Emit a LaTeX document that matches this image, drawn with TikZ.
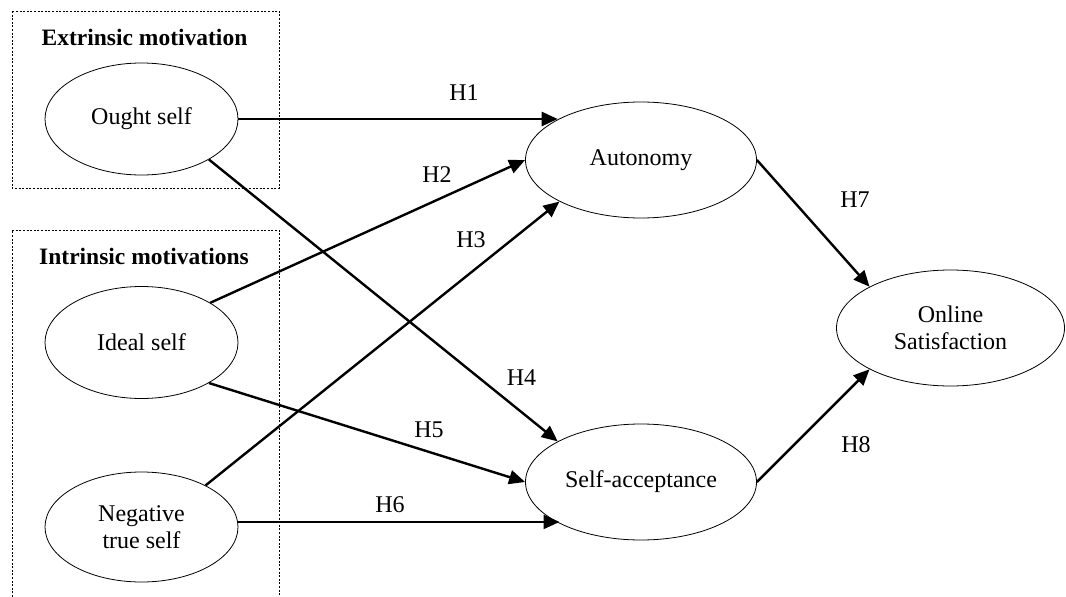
\documentclass[tikz,border=0pt]{standalone}
\usepackage{fontspec}
\setmainfont{Liberation Serif}
\usetikzlibrary{arrows.meta,shapes.geometric}

\tikzset{
  construct/.style={ellipse, draw, line width=0.8pt, inner sep=0pt,
    align=center, font=\fontsize{24}{26.5}\selectfont},
  small/.style={construct, minimum width=193pt, minimum height=112pt},
  wide/.style={construct, minimum width=231pt, minimum height=116pt},
  hyp/.style={line width=2.4pt, -{Triangle[length=16pt,width=14pt]}},
  hlabel/.style={inner sep=0pt, font=\fontsize{24}{26.5}\selectfont},
  grouptitle/.style={inner sep=0pt, font=\fontsize{23.5}{26}\selectfont\bfseries},
  groupframe/.style={line width=0.8pt, dash pattern=on 2pt off 1.6pt}
}

\begin{document}
\begin{tikzpicture}[x=1pt, y=-1pt]
  \useasboundingbox (0,0) rectangle (1066,597);

  % motivation groups
  \draw[groupframe] (12,11) rectangle (279,188);
  \draw[groupframe] (12,597) -- (12,230) -- (279,230) -- (279,597);
  \node[grouptitle] (ext) at (144.5,37) {Extrinsic motivation};
  \node[grouptitle] (int) at (144,256) {Intrinsic motivations};

  % constructs
  \node[small] (ought) at (141.5,119) {Ought self};
  \node[small] (ideal) at (141.5,342.5) {Ideal self};
  \node[small, minimum height=110pt] (neg) at (141.5,527) {Negative\\true self};
  \node[wide] (auto) at (641,160) {Autonomy};
  \node[wide] (sacc) at (641,482) {Self-acceptance};
  \node[construct, minimum width=228pt, minimum height=116pt] (online) at (950.5,328) {Online\\Satisfaction};

  % hypothesised paths
  \draw[hyp] (ought.east) -- (ought.east -| auto.154);
  \draw[hyp] (ideal.30) -- (auto.west);
  \draw[hyp] (neg.33) -- (auto.207);
  \draw[hyp] (ought.-31) -- (sacc.154);
  \draw[hyp] (ideal.-31) -- (sacc.west);
  \draw[hyp] (neg.3) -- (neg.3 -| sacc.207);
  \draw[hyp] (auto.east) -- (online.153);
  \draw[hyp] (sacc.east) -- (online.207);

  % path labels
  \node[hlabel] (h1) at (464,93) {H1};
  \node[hlabel] (h2) at (437,175) {H2};
  \node[hlabel] (h3) at (471,240) {H3};
  \node[hlabel] (h4) at (521.5,377.5) {H4};
  \node[hlabel] (h5) at (429,430) {H5};
  \node[hlabel] (h6) at (390,505) {H6};
  \node[hlabel] (h7) at (855,200) {H7};
  \node[hlabel] (h8) at (856,445) {H8};
\end{tikzpicture}
\end{document}
